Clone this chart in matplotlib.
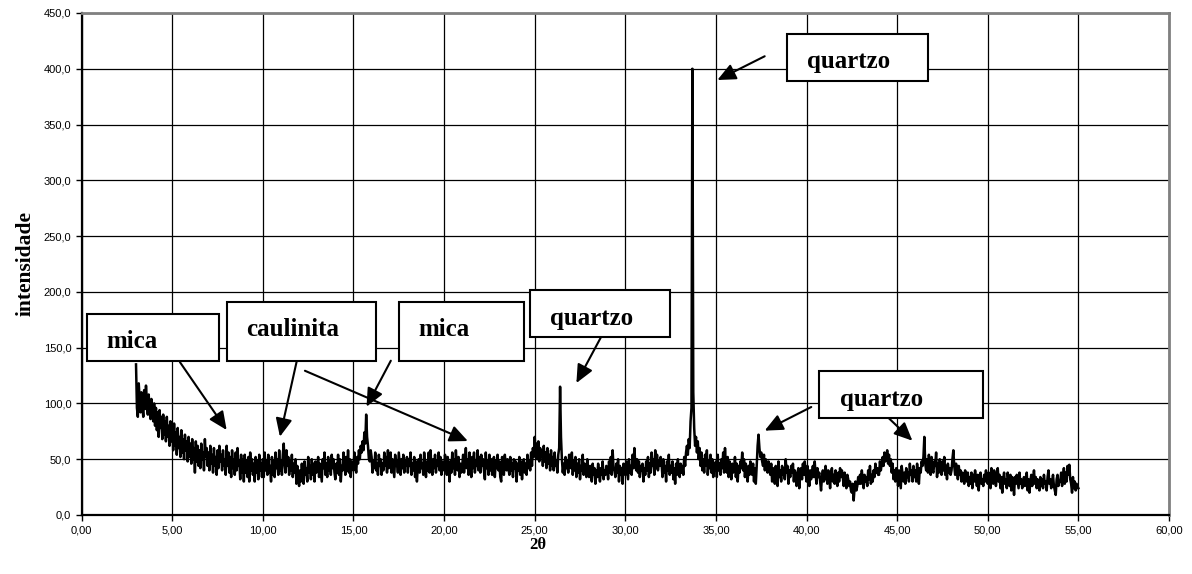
import numpy as np
import matplotlib.pyplot as plt
from matplotlib.patches import Rectangle
from matplotlib.ticker import FuncFormatter, MultipleLocator

# varredura 3,00 .. 55,00 graus (2 theta), passo 0,05; uma linha por grau
grau_inicial, passo = 3, 0.05
contagens = [
    [135, 96, 88, 118, 104, 92, 110, 98, 88, 112, 95, 116, 102, 90, 108, 94, 86, 104, 92, 84],   # 3
    [100, 80, 96, 76, 92, 70, 94, 78, 88, 68, 90, 72, 84, 66, 88, 70, 80, 62, 84, 66],          # 4
    [78, 58, 82, 62, 74, 54, 78, 60, 70, 52, 76, 56, 68, 50, 72, 58, 66, 48, 70, 52],           # 5
    [64, 46, 68, 50, 60, 38, 66, 48, 62, 44, 58, 42, 64, 50, 56, 40, 68, 52, 60, 44],           # 6
    [56, 40, 62, 46, 54, 38, 60, 44, 52, 36, 58, 42, 62, 48, 54, 40, 58, 44, 50, 36],           # 7
    [62, 44, 56, 38, 52, 34, 58, 42, 50, 36, 56, 40, 60, 44, 48, 32, 54, 38, 50, 30],           # 8
    [54, 38, 48, 34, 52, 30, 56, 40, 50, 36, 46, 30, 52, 38, 48, 32, 54, 40, 46, 34],           # 9
    [50, 34, 56, 40, 48, 36, 54, 38, 44, 30, 52, 36, 48, 34, 56, 42, 50, 36, 58, 40],           # 10
    [48, 36, 54, 64, 46, 38, 58, 44, 52, 36, 48, 40, 54, 34, 46, 38, 50, 28, 44, 34],           # 11
    [26, 40, 30, 46, 34, 28, 48, 36, 42, 30, 52, 38, 44, 32, 50, 36, 46, 30, 48, 38],           # 12
    [40, 52, 34, 46, 38, 30, 50, 42, 56, 36, 46, 34, 52, 40, 48, 36, 54, 42, 50, 38],           # 13
    [32, 46, 38, 54, 36, 50, 30, 44, 40, 56, 48, 36, 52, 40, 58, 38, 50, 34, 48, 42],           # 14
    [40, 56, 44, 38, 52, 46, 58, 50, 62, 56, 66, 58, 74, 64, 90, 70, 62, 50, 48, 58],           # 15
    [52, 38, 48, 42, 56, 40, 46, 36, 54, 44, 50, 36, 46, 40, 56, 44, 52, 38, 58, 42],           # 16
    [46, 56, 38, 50, 42, 34, 54, 44, 48, 38, 56, 46, 36, 50, 42, 54, 38, 48, 44, 52],           # 17
    [38, 50, 44, 56, 36, 46, 40, 52, 34, 48, 30, 44, 50, 38, 54, 42, 46, 36, 56, 44],           # 18
    [34, 48, 40, 56, 38, 58, 44, 36, 50, 42, 54, 38, 48, 44, 56, 40, 52, 36, 48, 42],           # 19
    [40, 54, 46, 36, 52, 44, 30, 48, 38, 56, 42, 50, 36, 58, 44, 40, 52, 34, 46, 38],           # 20
    [44, 54, 38, 48, 60, 42, 50, 36, 56, 46, 34, 52, 42, 56, 38, 48, 44, 58, 40, 52],           # 21
    [38, 54, 44, 50, 40, 32, 56, 42, 48, 36, 54, 40, 50, 36, 46, 52, 34, 48, 42, 54],           # 22
    [40, 48, 34, 30, 52, 44, 36, 54, 46, 40, 50, 42, 36, 52, 40, 46, 34, 50, 42, 48],           # 23
    [30, 46, 40, 52, 36, 48, 32, 44, 50, 38, 46, 36, 54, 42, 48, 40, 56, 44, 60, 52],           # 24
    [70, 56, 64, 50, 66, 48, 60, 52, 58, 44, 62, 48, 56, 42, 60, 46, 54, 40, 58, 44],           # 25
    [52, 40, 56, 44, 48, 38, 54, 60, 115, 70, 50, 38, 46, 36, 52, 42, 48, 38, 54, 44],          # 26
    [42, 56, 36, 48, 40, 52, 34, 46, 38, 50, 32, 44, 40, 54, 36, 46, 42, 34, 50, 38],           # 27
    [34, 44, 38, 30, 46, 36, 42, 28, 40, 34, 46, 38, 30, 42, 36, 48, 32, 40, 36, 44],           # 28
    [42, 32, 48, 38, 52, 36, 58, 42, 40, 34, 46, 38, 50, 30, 44, 36, 42, 28, 46, 38],           # 29
    [36, 48, 40, 32, 50, 38, 44, 36, 54, 42, 60, 46, 40, 50, 38, 48, 34, 44, 40, 46],           # 30
    [30, 42, 36, 48, 40, 52, 34, 46, 38, 56, 44, 50, 36, 58, 42, 54, 40, 48, 44, 52],           # 31
    [46, 34, 50, 38, 44, 30, 48, 40, 54, 36, 44, 38, 48, 32, 42, 28, 46, 36, 50, 38],           # 32
    [34, 46, 38, 44, 36, 52, 44, 56, 62, 54, 68, 60, 84, 96, 400, 110, 78, 62, 70, 56],         # 33
    [66, 50, 60, 44, 56, 40, 50, 38, 54, 44, 58, 36, 48, 42, 54, 38, 50, 34, 46, 40],           # 34
    [48, 34, 54, 40, 46, 36, 50, 42, 56, 38, 60, 44, 38, 52, 34, 48, 40, 32, 46, 38],           # 35
    [40, 52, 34, 46, 30, 44, 38, 48, 42, 56, 40, 50, 34, 46, 38, 30, 44, 36, 48, 40],           # 36
    [36, 46, 30, 42, 28, 44, 62, 72, 60, 52, 56, 48, 44, 54, 40, 50, 46, 38, 48, 42],           # 37
    [36, 46, 30, 42, 36, 28, 44, 38, 26, 48, 34, 40, 30, 44, 36, 42, 32, 50, 38, 44],           # 38
    [28, 40, 34, 44, 38, 46, 30, 40, 34, 26, 38, 42, 24, 36, 42, 32, 46, 36, 48, 38],           # 39
    [30, 44, 36, 26, 40, 32, 38, 44, 34, 48, 36, 28, 42, 34, 38, 30, 22, 34, 40, 30],           # 40
    [32, 44, 36, 28, 40, 34, 24, 38, 42, 30, 36, 28, 40, 32, 26, 38, 30, 42, 34, 40],           # 41
    [34, 26, 38, 30, 24, 36, 32, 26, 30, 22, 20, 28, 13, 24, 30, 22, 26, 34, 28, 36],           # 42
    [28, 40, 32, 24, 36, 30, 34, 26, 40, 32, 44, 28, 36, 30, 40, 34, 46, 38, 42, 36],           # 43
    [36, 48, 40, 46, 52, 44, 56, 48, 50, 58, 46, 54, 44, 50, 38, 46, 32, 40, 30, 42],           # 44
    [36, 26, 40, 32, 24, 44, 36, 30, 38, 28, 42, 34, 38, 30, 46, 36, 40, 30, 44, 34],           # 45
    [40, 30, 46, 36, 28, 42, 38, 48, 44, 52, 70, 46, 40, 50, 38, 54, 44, 36, 52, 40],           # 46
    [38, 48, 44, 56, 34, 46, 38, 50, 42, 36, 48, 40, 52, 36, 44, 32, 46, 38, 42, 36],           # 47
    [40, 50, 58, 44, 36, 46, 40, 32, 44, 36, 40, 30, 38, 34, 28, 40, 36, 30, 38, 26],           # 48
    [34, 28, 38, 24, 36, 30, 40, 32, 26, 36, 22, 34, 38, 28, 32, 26, 36, 30, 40, 32],           # 49
    [28, 38, 32, 24, 42, 34, 28, 40, 36, 26, 34, 42, 30, 36, 24, 34, 20, 32, 38, 28],           # 50
    [32, 24, 38, 30, 26, 36, 22, 34, 30, 18, 34, 28, 36, 30, 24, 38, 28, 32, 24, 30],           # 51
    [34, 26, 30, 38, 22, 32, 20, 30, 36, 26, 32, 40, 28, 34, 24, 32, 28, 22, 34, 26],           # 52
    [32, 24, 36, 28, 30, 22, 34, 40, 28, 32, 24, 30, 36, 26, 22, 18, 32, 36, 26, 30],           # 53
    [30, 38, 26, 34, 42, 28, 38, 30, 44, 36, 45, 32, 28, 20, 34, 24, 30, 22, 28, 26],           # 54
    [24],                                                                                       # 55
]
two_theta = np.concatenate([grau_inicial + i + passo * np.arange(len(linha))
                            for i, linha in enumerate(contagens)])
intensidade = np.concatenate([np.asarray(linha, float) for linha in contagens])

# caixas de texto: (rotulo, x0, x1, y0, y1, x do texto, linha de base)
caixas = [
    ("mica",      0.28,  7.57, 138.0, 180.2,  1.38, 149.4),
    ("caulinita", 8.00, 16.22, 138.0, 191.2,  9.10, 160.7),
    ("mica",     17.50, 24.39, 138.0, 191.2, 18.60, 160.7),
    ("quartzo",  24.73, 32.49, 159.8, 201.7, 25.87, 170.3),
    ("quartzo",  38.90, 46.68, 389.3, 431.4, 40.04, 400.4),
    ("quartzo",  40.67, 49.72,  86.9, 129.1, 41.83,  97.7),
]
# setas: (x cauda, y cauda, x ponta, y ponta)
setas = [
    (5.42, 137.1,  8.00, 76.2),
    (11.87, 138.0, 10.94, 70.2),
    (12.32, 129.3, 21.31, 66.3),
    (17.06, 138.3, 15.72, 97.1),
    (28.64, 158.9, 27.30, 118.3),
    (37.69, 411.2, 35.08, 389.9),
    (40.26, 96.8, 37.69, 75.6),
    (44.53, 86.9, 45.84, 66.6),
]

fig = plt.figure(figsize=(11.92, 5.74), dpi=100)
ax = fig.add_axes([0.0685, 0.1028, 0.9122, 0.8746])

ax.plot(two_theta, intensidade, color="black", lw=1.8, zorder=3)

ax.set_xlim(0, 60)
ax.set_ylim(0, 450)
ax.xaxis.set_major_locator(MultipleLocator(5))
ax.yaxis.set_major_locator(MultipleLocator(50))
ax.xaxis.set_major_formatter(FuncFormatter(lambda v, p: f"{v:.2f}".replace(".", ",")))
ax.yaxis.set_major_formatter(FuncFormatter(lambda v, p: f"{v:.1f}".replace(".", ",")))
ax.grid(True, color="black", lw=0.9)
ax.set_axisbelow(True)
ax.tick_params(direction="out", length=4, width=1, labelsize=8, color="black")
for lab in ax.get_xticklabels() + ax.get_yticklabels():
    lab.set_family("Liberation Sans")

for s in ("left", "bottom"):
    ax.spines[s].set_color("black")
    ax.spines[s].set_linewidth(1.6)
for s in ("top", "right"):
    ax.spines[s].set_color("#808080")
    ax.spines[s].set_linewidth(2)

serif = dict(family="Liberation Serif", weight="bold")
ax.set_ylabel("intensidade", fontsize=15.5, labelpad=6, **serif)
fig.text(538 / 1192, 1 - 545 / 574, "2θ", fontsize=12, ha="center", va="center", **serif)

for rotulo, x0, x1, y0, y1, tx, ty in caixas:
    ax.add_patch(Rectangle((x0, y0), x1 - x0, y1 - y0, facecolor="white",
                           edgecolor="black", lw=1.5, zorder=5))
    ax.text(tx, ty, rotulo, fontsize=18, va="baseline", ha="left", zorder=6, **serif)

for xa, ya, xb, yb in setas:
    ax.annotate("", xy=(xb, yb), xytext=(xa, ya), zorder=6,
                arrowprops=dict(arrowstyle="-|>,head_length=0.55,head_width=0.25",
                                mutation_scale=20, color="black", lw=1.5,
                                shrinkA=0, shrinkB=0))

fig.savefig("out.png", dpi=100)
